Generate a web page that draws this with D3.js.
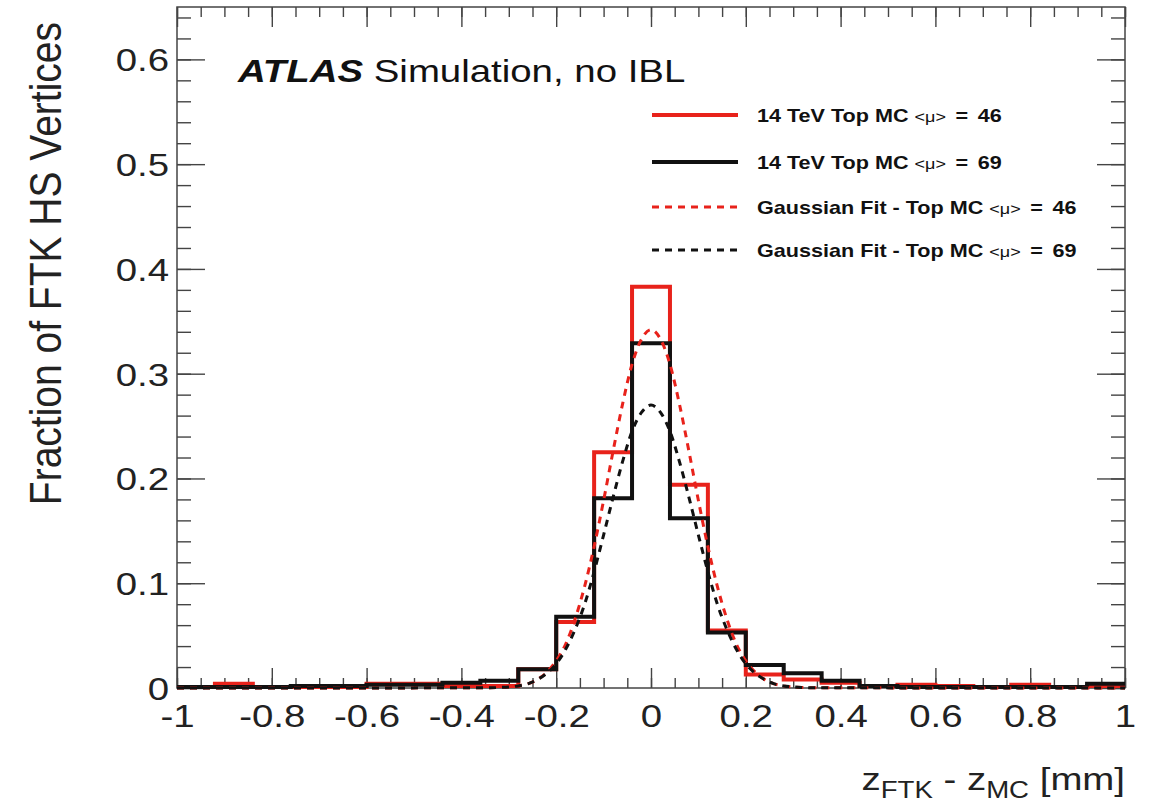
<!DOCTYPE html>
<html>
<head>
<meta charset="utf-8">
<script src="https://cdn.jsdelivr.net/npm/d3@7/dist/d3.min.js"></script>
<style>
  html, body { margin: 0; padding: 0; background: #fff; }
  svg { display: block; }
  text { font-family: "Liberation Sans", Arial, Helvetica, sans-serif; }
</style>
</head>
<body>
<svg id="chart" width="1157" height="807"></svg>
<script>
// ---------------- data ----------------
const binEdges = [-1, -0.92, -0.84, -0.76, -0.68, -0.6, -0.52, -0.44, -0.36, -0.28, -0.2, -0.12, -0.04,
                  0.04, 0.12, 0.2, 0.28, 0.36, 0.44, 0.52, 0.6, 0.68, 0.76, 0.84, 0.92, 1];
const histMu46 = [0.001, 0.004, 0.001, 0.001, 0.001, 0.004, 0.004, 0.002, 0.002, 0.018, 0.063, 0.225, 0.383,
                  0.194, 0.055, 0.013, 0.008, 0.005, 0.002, 0.003, 0.002, 0.001, 0.003, 0.001, 0.002];
const histMu69 = [0.001, 0.001, 0.001, 0.002, 0.002, 0.003, 0.003, 0.005, 0.007, 0.018, 0.068, 0.181, 0.329,
                  0.162, 0.053, 0.022, 0.014, 0.007, 0.002, 0.001, 0.001, 0.001, 0.001, 0.001, 0.004];
const fitX = [-1, -0.34, -0.32, -0.3, -0.28, -0.26, -0.24, -0.22, -0.2, -0.18, -0.16, -0.14, -0.12, -0.1, -0.08,
              -0.06, -0.04, -0.02, 0, 0.02, 0.04, 0.06, 0.08, 0.1, 0.12, 0.14, 0.16, 0.18, 0.2, 0.22, 0.24,
              0.26, 0.28, 0.3, 0.32, 0.34, 1];
const fitMu46 = [0, 0.0002, 0.0005, 0.001, 0.002, 0.004, 0.008, 0.015, 0.026, 0.042, 0.066, 0.097, 0.135, 0.179, 0.226,
                 0.271, 0.309, 0.333, 0.342, 0.333, 0.309, 0.271, 0.226, 0.179, 0.135, 0.097, 0.066, 0.042, 0.026,
                 0.015, 0.008, 0.004, 0.002, 0.001, 0.0005, 0.0002, 0];
const fitMu69 = [0, 0.0002, 0.0005, 0.001, 0.002, 0.004, 0.008, 0.014, 0.023, 0.037, 0.056, 0.080, 0.111, 0.146, 0.182,
                 0.216, 0.245, 0.263, 0.270, 0.263, 0.245, 0.216, 0.182, 0.146, 0.111, 0.080, 0.056, 0.037, 0.023,
                 0.014, 0.008, 0.004, 0.002, 0.001, 0.0005, 0.0002, 0];
const xTicks = [-1, -0.8, -0.6, -0.4, -0.2, 0, 0.2, 0.4, 0.6, 0.8, 1];
const xTickLabels = ["-1", "-0.8", "-0.6", "-0.4", "-0.2", "0", "0.2", "0.4", "0.6", "0.8", "1"];
const xMinorTicks = d3.range(-20, 21).map(i => i * 0.05);
const yTicks = [0, 0.1, 0.2, 0.3, 0.4, 0.5, 0.6];
const yTickLabels = ["0", "0.1", "0.2", "0.3", "0.4", "0.5", "0.6"];
const yMinorTicks = d3.range(0, 33).map(i => i * 0.02);
const legendLabels = [
  ["14 TeV Top MC ", " = 46"],
  ["14 TeV Top MC ", " = 69"],
  ["Gaussian Fit - Top MC ", " = 46"],
  ["Gaussian Fit - Top MC ", " = 69"]
];

// ---------------- layout ----------------
const L = 177, R = 1125, T = 7, B = 688;
const SX = 1.2; // horizontal stretch of the reference text
const RED = "#e8221b", BLACK = "#111111";

const svg = d3.select("#chart");
const x = d3.scaleLinear().domain([-1, 1]).range([L, R]);
const y = d3.scaleLinear().domain([0, 0.65]).range([B, T]);

// axes (ticks inside the frame)
function tickStyle(g) {
  g.select(".domain").remove();
  g.selectAll(".tick line").attr("stroke", "#444").attr("stroke-width", 1.4);
}
svg.append("g").attr("transform", `translate(0,${B})`)
  .call(d3.axisBottom(x).tickValues(xMinorTicks).tickSize(-10).tickFormat(""))
  .call(tickStyle);
const xAx = svg.append("g").attr("transform", `translate(0,${B})`)
  .call(d3.axisBottom(x).tickValues(xTicks).tickSize(-20).tickFormat((d, i) => xTickLabels[i]))
  .call(tickStyle);
xAx.selectAll(".tick text")
  .attr("y", 39).attr("dy", 0)
  .attr("transform", `scale(${SX},1)`)
  .attr("fill", "#222").attr("font-size", 32);
svg.append("g").attr("transform", `translate(0,${T})`)
  .call(d3.axisTop(x).tickValues(xMinorTicks).tickSize(-10).tickFormat(""))
  .call(tickStyle);
svg.append("g").attr("transform", `translate(0,${T})`)
  .call(d3.axisTop(x).tickValues(xTicks).tickSize(-20).tickFormat(""))
  .call(tickStyle);

svg.append("g").attr("transform", `translate(${L},0)`)
  .call(d3.axisLeft(y).tickValues(yMinorTicks).tickSize(-14).tickFormat(""))
  .call(tickStyle);
const yAx = svg.append("g").attr("transform", `translate(${L},0)`)
  .call(d3.axisLeft(y).tickValues(yTicks).tickSize(-28).tickFormat((d, i) => yTickLabels[i]))
  .call(tickStyle);
yAx.selectAll(".tick text")
  .attr("x", -8 / SX).attr("dy", "0.36em")
  .attr("transform", `scale(${SX},1)`)
  .attr("fill", "#222").attr("font-size", 32);
svg.append("g").attr("transform", `translate(${R},0)`)
  .call(d3.axisRight(y).tickValues(yMinorTicks).tickSize(-14).tickFormat(""))
  .call(tickStyle);
svg.append("g").attr("transform", `translate(${R},0)`)
  .call(d3.axisRight(y).tickValues(yTicks).tickSize(-28).tickFormat(""))
  .call(tickStyle);

// frame
svg.append("rect").attr("x", L).attr("y", T).attr("width", R - L).attr("height", B - T)
  .attr("fill", "none").attr("stroke", "#444").attr("stroke-width", 1.5);

// histograms
function histPts(vals) {
  const pts = vals.map((v, i) => [binEdges[i], v]);
  pts.push([binEdges[binEdges.length - 1], vals[vals.length - 1]]);
  return pts;
}
const stepLine = d3.line().x(d => x(d[0])).y(d => y(d[1])).curve(d3.curveStepAfter);
svg.append("path").attr("d", stepLine(histPts(histMu46)))
  .attr("fill", "none").attr("stroke", RED).attr("stroke-width", 4).attr("stroke-linejoin", "miter");
svg.append("path").attr("d", stepLine(histPts(histMu69)))
  .attr("fill", "none").attr("stroke", BLACK).attr("stroke-width", 4).attr("stroke-linejoin", "miter");

// fits
const fitLine = d3.line().x(d => x(d[0])).y(d => y(d[1])).curve(d3.curveMonotoneX);
svg.append("path").attr("d", fitLine(fitX.map((v, i) => [v, fitMu46[i]])))
  .attr("fill", "none").attr("stroke", RED).attr("stroke-width", 3).attr("stroke-dasharray", "7,6");
svg.append("path").attr("d", fitLine(fitX.map((v, i) => [v, fitMu69[i]])))
  .attr("fill", "none").attr("stroke", BLACK).attr("stroke-width", 3).attr("stroke-dasharray", "7,6");

// ATLAS label
const atl = svg.append("text").attr("transform", `translate(238,82) scale(${SX},1)`)
  .attr("font-size", 32).attr("fill", "#111");
atl.append("tspan").attr("font-weight", "bold").attr("font-style", "italic").text("ATLAS");
atl.append("tspan").text(" Simulation, no IBL");

// legend
const legY = [115, 162, 207, 250];
const legStyles = [
  {c: RED, dash: null, w: 4}, {c: BLACK, dash: null, w: 4},
  {c: RED, dash: "7,6", w: 3}, {c: BLACK, dash: "7,6", w: 3}
];
legendLabels.forEach((lab, i) => {
  const s = legStyles[i];
  const ln = svg.append("line").attr("x1", 652).attr("x2", 738).attr("y1", legY[i]).attr("y2", legY[i])
    .attr("stroke", s.c).attr("stroke-width", s.w);
  if (s.dash) ln.attr("stroke-dasharray", s.dash);
  const t = svg.append("text").attr("transform", `translate(757,${legY[i] + 6.5}) scale(${SX},1)`)
    .attr("font-size", 18).attr("font-weight", "bold").attr("fill", "#111");
  t.append("tspan").text(lab[0]);
  t.append("tspan").attr("font-weight", "normal").attr("font-size", 15).text("<μ>");
  t.append("tspan").attr("word-spacing", 3).text(lab[1]);
});

// axis titles
const xt = svg.append("text").attr("text-anchor", "end")
  .attr("transform", `translate(1125,790) scale(${SX},1)`)
  .attr("font-size", 32).attr("fill", "#222");
xt.append("tspan").text("z");
xt.append("tspan").attr("font-size", 23).attr("dy", 8).text("FTK");
xt.append("tspan").attr("dy", -8).text(" - z");
xt.append("tspan").attr("font-size", 23).attr("dy", 8).text("MC");
xt.append("tspan").attr("dy", -8).text(" [mm]");

svg.append("text").attr("text-anchor", "end")
  .attr("transform", `translate(61,22) rotate(-90) scale(1,1.12)`)
  .attr("font-size", 39).attr("fill", "#222")
  .text("Fraction of FTK HS Vertices");
</script>
</body>
</html>
